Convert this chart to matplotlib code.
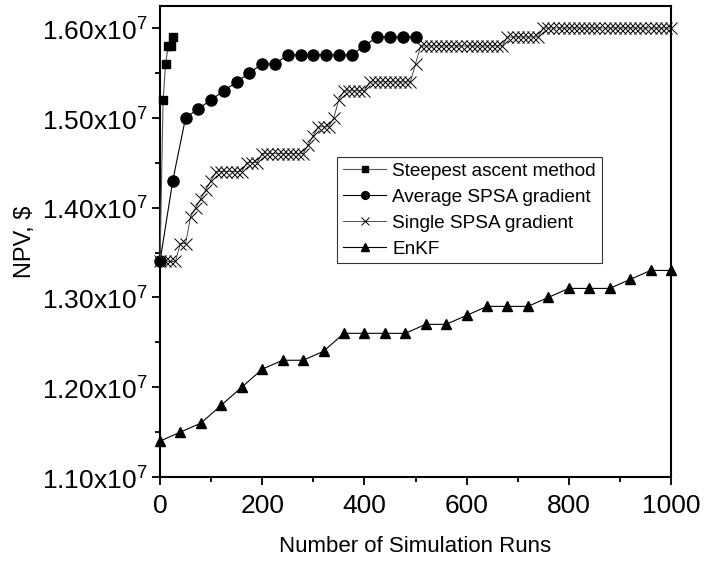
import matplotlib
matplotlib.use("Agg")
import matplotlib.pyplot as plt
from matplotlib.ticker import MultipleLocator, FuncFormatter

plt.rcParams['font.family'] = ['Liberation Sans', 'DejaVu Sans']
plt.rcParams['mathtext.fontset'] = 'custom'
plt.rcParams['mathtext.rm'] = 'Liberation Sans'

# Steepest ascent method
steep_x = [0, 6, 11, 16, 21, 26]
steep_y = [1.34e7, 1.52e7, 1.56e7, 1.58e7, 1.58e7, 1.59e7]

# Average SPSA gradient
avg_x = [0, 25, 50, 75, 100, 125, 150, 175, 200, 225, 250, 275, 300, 325, 350,
         375, 400, 425, 450, 475, 500]
avg_y = [1.34e7, 1.43e7, 1.50e7, 1.51e7, 1.52e7, 1.53e7, 1.54e7, 1.55e7, 1.56e7,
         1.56e7, 1.57e7, 1.57e7, 1.57e7, 1.57e7, 1.57e7, 1.57e7, 1.58e7, 1.59e7,
         1.59e7, 1.59e7, 1.59e7]

# Single SPSA gradient (one point every 10 runs)
single_x = list(range(0, 1001, 10))
single_y = [
    1.34e7, 1.34e7, 1.34e7, 1.34e7, 1.36e7, 1.36e7, 1.39e7, 1.40e7, 1.41e7, 1.42e7,
    1.43e7, 1.44e7, 1.44e7, 1.44e7, 1.44e7, 1.44e7, 1.44e7, 1.45e7, 1.45e7, 1.45e7,
    1.46e7, 1.46e7, 1.46e7, 1.46e7, 1.46e7, 1.46e7, 1.46e7, 1.46e7, 1.46e7, 1.47e7,
    1.48e7, 1.49e7, 1.49e7, 1.49e7, 1.50e7, 1.52e7, 1.53e7, 1.53e7, 1.53e7, 1.53e7,
    1.53e7, 1.54e7, 1.54e7, 1.54e7, 1.54e7, 1.54e7, 1.54e7, 1.54e7, 1.54e7, 1.54e7,
    1.56e7, 1.58e7, 1.58e7, 1.58e7, 1.58e7, 1.58e7, 1.58e7, 1.58e7, 1.58e7, 1.58e7,
    1.58e7, 1.58e7, 1.58e7, 1.58e7, 1.58e7, 1.58e7, 1.58e7, 1.58e7, 1.59e7, 1.59e7,
    1.59e7, 1.59e7, 1.59e7, 1.59e7, 1.59e7, 1.60e7, 1.60e7, 1.60e7, 1.60e7, 1.60e7,
    1.60e7, 1.60e7, 1.60e7, 1.60e7, 1.60e7, 1.60e7, 1.60e7, 1.60e7, 1.60e7, 1.60e7,
    1.60e7, 1.60e7, 1.60e7, 1.60e7, 1.60e7, 1.60e7, 1.60e7, 1.60e7, 1.60e7, 1.60e7,
    1.60e7,
]

# EnKF
enkf_x = [0, 40, 80, 120, 160, 200, 240, 280, 320, 360, 400, 440, 480, 520, 560,
          600, 640, 680, 720, 760, 800, 840, 880, 920, 960, 1000]
enkf_y = [1.14e7, 1.15e7, 1.16e7, 1.18e7, 1.20e7, 1.22e7, 1.23e7, 1.23e7, 1.24e7,
          1.26e7, 1.26e7, 1.26e7, 1.26e7, 1.27e7, 1.27e7, 1.28e7, 1.29e7, 1.29e7,
          1.29e7, 1.30e7, 1.31e7, 1.31e7, 1.31e7, 1.32e7, 1.33e7, 1.33e7]

labels = ["Steepest ascent method", "Average SPSA gradient",
          "Single SPSA gradient", "EnKF"]

fig = plt.figure(figsize=(7.05, 5.72), dpi=100)
ax = fig.add_axes([160/705, 95/572, 511/705, 471/572])

ax.plot(steep_x, steep_y, color='#555555', lw=0.8, marker='s', ms=6,
        mfc='black', mec='black', label=labels[0], clip_on=False, zorder=5)
ax.plot(avg_x, avg_y, color='black', lw=0.8, marker='o', ms=8,
        mfc='black', mec='black', label=labels[1], clip_on=False, zorder=4)
ax.plot(single_x, single_y, color='#333333', lw=0.6, marker='x', ms=8,
        mew=0.7, mec='black', label=labels[2], clip_on=False, zorder=3)
ax.plot(enkf_x, enkf_y, color='black', lw=0.8, marker='^', ms=7.5,
        mfc='black', mec='black', label=labels[3], clip_on=False, zorder=4)

ax.set_xlim(0, 1000)
ax.set_ylim(1.10e7, 1.6245e7)
ax.xaxis.set_major_locator(MultipleLocator(200))
ax.xaxis.set_minor_locator(MultipleLocator(100))
ax.yaxis.set_major_locator(MultipleLocator(0.1e7))
ax.yaxis.set_minor_locator(MultipleLocator(0.05e7))
ax.yaxis.set_major_formatter(FuncFormatter(lambda v, p: "%.2fx10$^{7}$" % (v / 1e7)))

for s in ax.spines.values():
    s.set_linewidth(1.5)
ax.tick_params(which='major', direction='out', length=6, width=1.3, labelsize=19, pad=3)
ax.tick_params(axis='x', which='major', pad=6)
ax.tick_params(which='minor', direction='out', length=3.5, width=1.3)

ax.set_xlabel("Number of Simulation Runs", fontsize=16, labelpad=13)
ax.set_ylabel("NPV, $", fontsize=17, labelpad=4)

leg = ax.legend(loc='upper left', bbox_to_anchor=(177/511, (477-157)/471),
                fontsize=13.7, frameon=True, fancybox=False, edgecolor='black',
                handlelength=2.3, handletextpad=0.3, markerscale=0.7,
                borderpad=0.3, labelspacing=0.45, borderaxespad=0)
leg.get_frame().set_linewidth(0.8)

fig.savefig("out.png", dpi=100)
